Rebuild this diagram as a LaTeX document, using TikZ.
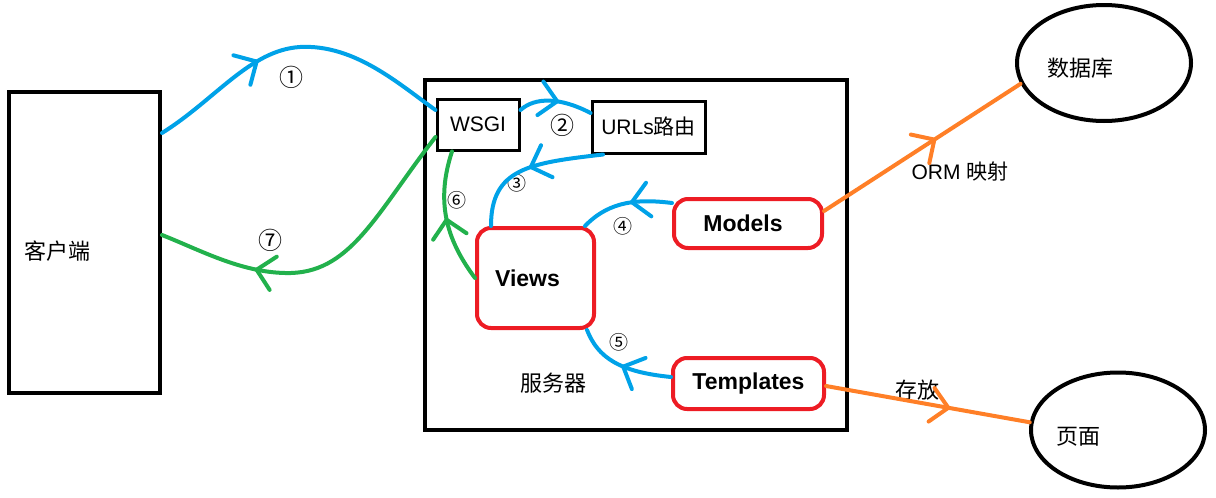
\documentclass[tikz,border=0pt]{standalone}
\usepackage{fontspec}
\setmainfont{Liberation Sans}
\newfontfamily\cjk{Noto Sans CJK SC}
\usetikzlibrary{arrows.meta,decorations.markings,shapes.geometric}

\definecolor{paintblue}{RGB}{0,162,232}
\definecolor{paintgreen}{RGB}{34,177,76}
\definecolor{paintred}{RGB}{237,28,36}
\definecolor{paintorange}{RGB}{255,127,39}

\begin{document}
\begin{tikzpicture}
[
x=1pt,y=-1pt,
plainbox/.style={draw,line width=#1,inner sep=0pt},
redbox/.style={draw=paintred,line width=4pt,rounded corners=14pt,inner sep=0pt,
  font=\fontsize{23}{27}\selectfont\bfseries},
oval/.style={draw,ellipse,line width=4pt,inner sep=0pt},
txt/.style={font=\fontsize{21}{25}\selectfont},
cjktxt/.style={font=\fontsize{22}{26}\selectfont\cjk},
numbig/.style={font=\fontsize{24}{28}\selectfont\cjk},
numsmall/.style={font=\fontsize{19}{22}\selectfont\cjk},
flow/.style={line width=4pt,line cap=round,postaction={decorate},
  decoration={markings,mark=at position #1 with
    {\arrow{Straight Barb[length=17pt,width=34pt,round]}}}}
]
\useasboundingbox (0,0) rectangle (1216,498);

% client and server
\node[plainbox=4pt,minimum width=151pt,minimum height=301pt] (client) at (84.5,242.5) {};
\node[cjktxt] (clienttext) at (57,251) {客户端};
\node[plainbox=4.5pt,minimum width=422pt,minimum height=350pt] (server) at (636,255) {};
\node[cjktxt] (servertext) at (553,383) {服务器};

% parts inside the server
\node[plainbox=3pt,minimum width=82pt,minimum height=51pt,txt] (wsgi) at (478,124.5) {WSGI};
\node[plainbox=3pt,minimum width=113pt,minimum height=52pt,txt] (urls) at (648.5,127) {URLs{\cjk 路由}};
\node[redbox,minimum width=117pt,minimum height=100pt] (views) at (535.5,278) {Views\hspace*{16pt}};
\node[redbox,minimum width=148pt,minimum height=49pt] (models) at (748,223.5) {Models\hspace*{10pt}};
\node[redbox,minimum width=151pt,minimum height=51pt] (templates) at (748.5,383.5) {Templates};

% storage
\node[oval,minimum width=174pt,minimum height=116pt] (db) at (1104,63) {};
\node[cjktxt] (dbtext) at (1080,68) {数据库};
\node[oval,minimum width=174pt,minimum height=115pt] (page) at (1118,430) {};
\node[cjktxt] (pagetext) at (1078,437) {页面};

\node[txt] (ormtext) at (960,172) {ORM {\cjk 映射}};
\node[cjktxt] (storetext) at (917,390) {存放};

% step numbers
\node[numbig] (n1) at (291,77) {①};
\node[numbig] (n2) at (562,125) {②};
\node[numsmall] (n3) at (517,183) {③};
\node[numsmall] (n4) at (623,226) {④};
\node[numsmall] (n5) at (619,342) {⑤};
\node[numsmall] (n6) at (457,200) {⑥};
\node[numbig] (n7) at (270,240) {⑦};

% request and response
\draw[flow=0.38,paintblue] (client.east |- 0,133) .. controls (215,100) and (250,50) .. (300,47)
  .. controls (355,44) and (400,85) .. (wsgi.west |- 0,110);
\draw[flow=0.55,paintblue] (wsgi.east |- 0,110) .. controls (535,97) and (560,97) .. (urls.west |- 0,113);
\draw[flow=0.5,paintblue] (urls.south -| 603,0) .. controls (530,163) and (491,168) .. (views.north -| 491,0);
\draw[flow=0.45,paintblue] (models.west |- 0,203) .. controls (640,199) and (610,200) .. (views.north -| 585,0);
\draw[flow=0.5,paintblue] (templates.west |- 0,377) .. controls (620,372) and (598,358) .. (views.south -| 587,0);
\draw[flow=0.5,paintgreen] (views.west |- 0,278) .. controls (445,238) and (436,200) .. (wsgi.south -| 452,0);
\draw[flow=0.71,paintgreen] (wsgi.west |- 0,137) .. controls (375,215) and (350,275) .. (285,273)
  .. controls (240,272) and (200,250) .. (client.east |- 0,235);

\draw[flow=0.57,paintorange] (models.east |- 0,211) -- (db.194);
\draw[flow=0.61,paintorange] (templates.east |- 0,386) -- (page.175);

\end{tikzpicture}
\end{document}
